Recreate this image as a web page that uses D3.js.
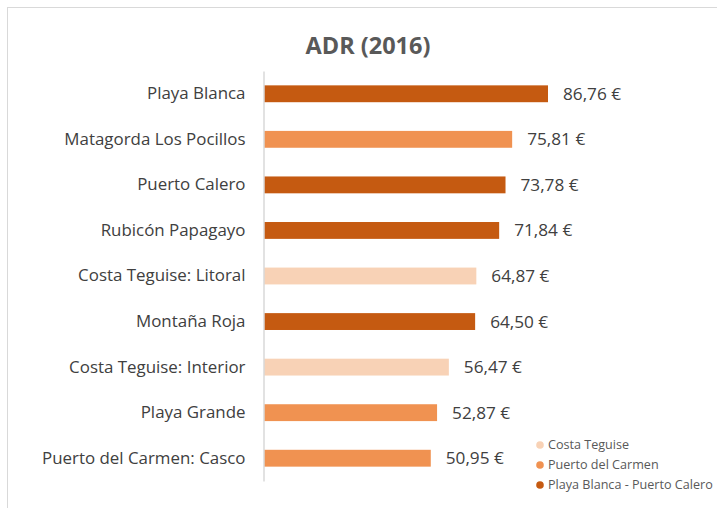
<!DOCTYPE html>
<html>
<head>
<meta charset="utf-8">
<script src="https://cdn.jsdelivr.net/npm/d3@7"></script>
<style>
  body { margin: 0; background: #fff; }
  svg { display: block; font-family: 'Open Sans', sans-serif; }
</style>
</head>
<body>
<svg width="717" height="508"></svg>
<script>
var zones = ['Playa Blanca', 'Matagorda Los Pocillos', 'Puerto Calero', 'Rubicón Papagayo',
  'Costa Teguise: Litoral', 'Montaña Roja', 'Costa Teguise: Interior', 'Playa Grande',
  'Puerto del Carmen: Casco'];
var adr = [86.76, 75.81, 73.78, 71.84, 64.87, 64.50, 56.47, 52.87, 50.95];
var groups = ['Playa Blanca - Puerto Calero', 'Puerto del Carmen', 'Playa Blanca - Puerto Calero',
  'Playa Blanca - Puerto Calero', 'Costa Teguise', 'Playa Blanca - Puerto Calero', 'Costa Teguise',
  'Puerto del Carmen', 'Puerto del Carmen'];
var legendNames = ['Costa Teguise', 'Puerto del Carmen', 'Playa Blanca - Puerto Calero'];
var legendColors = ['#F8D2B6', '#F09251', '#C55A11'];

var svg = d3.select('svg');

// chart frame
svg.append('rect')
  .attr('x', 7.5).attr('y', 7.5)
  .attr('width', 720).attr('height', 520)
  .attr('fill', 'none')
  .attr('stroke', '#d9d9d9');

svg.append('text')
  .attr('x', 368).attr('y', 54)
  .attr('text-anchor', 'middle')
  .attr('font-size', 23.5)
  .attr('font-weight', 'bold')
  .attr('fill', '#595959')
  .text('ADR (2016)');

var x = d3.scaleLinear().domain([0, 86.76]).range([264, 548]);
var y = d3.scaleBand().domain(zones).range([71, 481]).paddingInner(0.63).paddingOuter(0.315);
var color = d3.scaleOrdinal().domain(legendNames).range(legendColors);

var data = zones.map(function(z, i) {
  return { zone: z, value: adr[i], group: groups[i] };
});

svg.selectAll('rect.bar')
  .data(data)
  .enter()
  .append('rect')
  .attr('class', 'bar')
  .attr('x', x(0))
  .attr('y', function(d) { return y(d.zone); })
  .attr('width', function(d) { return x(d.value) - x(0); })
  .attr('height', y.bandwidth())
  .attr('fill', function(d) { return color(d.group); });

// category axis
var yAxis = svg.append('g')
  .attr('transform', 'translate(263.5,0)')
  .call(d3.axisLeft(y).tickSize(0).tickPadding(18));
yAxis.select('.domain').attr('stroke', '#d9d9d9').attr('stroke-width', 1.5);
yAxis.selectAll('text')
  .attr('font-size', 16.9)
  .attr('font-family', "'Open Sans', sans-serif")
  .attr('fill', '#404040');

var fmt = d3.formatLocale({ decimal: ',', thousands: '.', grouping: [3], currency: ['', ' €'] }).format('.2f');

svg.selectAll('text.value')
  .data(data)
  .enter()
  .append('text')
  .attr('class', 'value')
  .attr('x', function(d) { return x(d.value) + 15; })
  .attr('y', function(d) { return y(d.zone) + y.bandwidth() / 2; })
  .attr('dy', '0.35em')
  .attr('font-size', 17.2)
  .attr('fill', '#404040')
  .text(function(d) { return fmt(d.value) + ' €'; });

var legend = svg.append('g')
  .selectAll('g')
  .data(legendNames)
  .enter()
  .append('g')
  .attr('transform', function(d, i) { return 'translate(540,' + (445 + i * 20) + ')'; });

legend.append('circle')
  .attr('r', 3.8)
  .attr('fill', function(d) { return color(d); });

legend.append('text')
  .attr('x', 8)
  .attr('dy', '0.35em')
  .attr('font-size', 12.6)
  .attr('fill', '#595959')
  .text(function(d) { return d; });
</script>
</body>
</html>
